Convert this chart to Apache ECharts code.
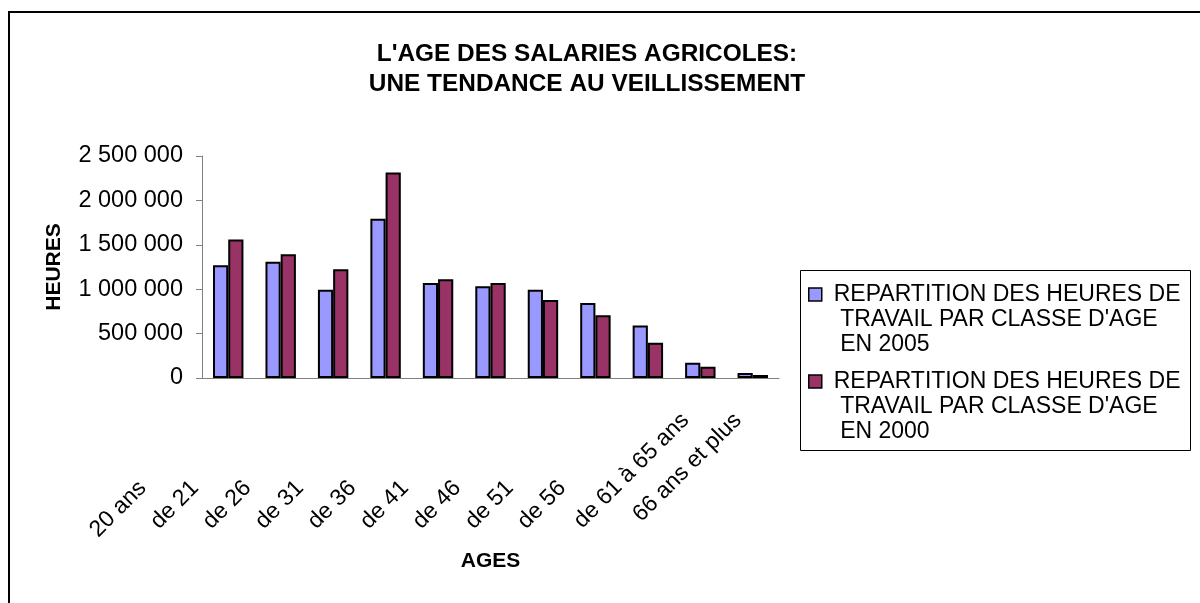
<!DOCTYPE html>
<html>
<head>
<meta charset="utf-8">
<script src="https://cdn.jsdelivr.net/npm/echarts@6/dist/echarts.min.js"></script>
<style>
  html, body { margin: 0; padding: 0; background: #fff; }
  #chart { width: 1200px; height: 603px; }
</style>
</head>
<body>
<div id="chart"></div>
<script>
// age classes: the first nine are shown cut short in the original, the last two in full
const shortLabels = ['20 ans', 'de 21', 'de 26', 'de 31', 'de 36', 'de 41', 'de 46', 'de 51', 'de 56'];
const longLabels = ['de 61 à 65 ans', '66 ans et plus'];
const ages = shortLabels.concat(longLabels);

const heures2005 = [1270000, 1310000, 995000, 1792000, 1070000, 1033000, 995000, 846000, 591000, 172000, 56000];
const heures2000 = [1560000, 1393000, 1224000, 2313000, 1112000, 1070000, 879000, 707000, 396000, 127000, 34000];

const yTicks = [0, 500000, 1000000, 1500000, 2000000, 2500000];

const serie2005 = 'REPARTITION DES HEURES DE\n TRAVAIL PAR CLASSE D\'AGE\n EN 2005';
const serie2000 = 'REPARTITION DES HEURES DE\n TRAVAIL PAR CLASSE D\'AGE\n EN 2000';

const font = '"Liberation Sans", Arial, sans-serif';
const fmt = v => String(v).replace(/\B(?=(\d{3})+(?!\d))/g, ' ');

const chart = echarts.init(document.getElementById('chart'));

const option = {
  backgroundColor: '#fff',
  animation: false,
  textStyle: { fontFamily: font },
  title: {
    text: 'L\'AGE DES SALARIES AGRICOLES:\nUNE TENDANCE AU VEILLISSEMENT',
    left: 587,
    top: 39,
    padding: 0,
    textAlign: 'center',
    textStyle: { fontFamily: font, fontSize: 24.4, fontWeight: 'bold', color: '#000', lineHeight: 30 }
  },
  legend: {
    orient: 'vertical',
    left: 808,
    top: 232,
    padding: 0,
    itemGap: -38,
    itemWidth: 13,
    itemHeight: 13,
    icon: 'rect',
    selectedMode: false,
    itemStyle: { borderColor: '#000', borderWidth: 1.5 },
    // two empty lines on top keep the first text line level with the icon
    formatter: name => '\n\n' + name,
    textStyle: { fontFamily: font, fontSize: 23, color: '#000', lineHeight: 25, padding: [0, 0, 0, 7] },
    data: [serie2005, serie2000]
  },
  grid: { left: 202, right: 421, top: 156, bottom: 225, outerBoundsMode: 'none' },
  xAxis: [
    {
      type: 'category',
      data: ages,
      name: 'AGES',
      nameLocation: 'middle',
      nameGap: 173,
      nameMoveOverlap: false,
      nameTextStyle: { fontFamily: font, fontSize: 21, fontWeight: 'bold', color: '#000' },
      axisLine: { lineStyle: { color: '#808080', width: 1 } },
      axisTick: { length: 7, lineStyle: { color: '#808080' } },
      axisLabel: {
        interval: 0,
        rotate: 45,
        margin: 21,
        padding: [0, 121, 0, 0],
        fontFamily: font,
        fontSize: 23,
        color: '#000',
        formatter: v => shortLabels.includes(v) ? v : ''
      }
    },
    {
      type: 'category',
      data: ages,
      position: 'bottom',
      axisLine: { show: false },
      axisTick: { show: false },
      axisLabel: {
        interval: 0,
        rotate: 45,
        margin: 24,
        padding: [0, 21, 0, 0],
        fontFamily: font,
        fontSize: 23,
        color: '#000',
        formatter: v => longLabels.includes(v) ? v : ''
      }
    }
  ],
  yAxis: {
    type: 'value',
    min: yTicks[0],
    max: yTicks[yTicks.length - 1],
    interval: yTicks[1] - yTicks[0],
    name: 'HEURES',
    nameLocation: 'middle',
    nameGap: 137,
    nameRotate: 90,
    nameMoveOverlap: false,
    nameTextStyle: { fontFamily: font, fontSize: 21, fontWeight: 'bold', color: '#000' },
    axisLine: { show: true, lineStyle: { color: '#808080', width: 1 } },
    axisTick: { show: true, length: 6, lineStyle: { color: '#808080' } },
    splitLine: { show: false },
    axisLabel: { margin: 19, fontFamily: font, fontSize: 23.5, color: '#000', formatter: fmt }
  },
  series: [
    {
      name: serie2005,
      type: 'bar',
      data: heures2005,
      barGap: '0%',
      barCategoryGap: '42%',
      itemStyle: { color: '#9999FF', borderColor: '#000', borderWidth: 2 }
    },
    {
      name: serie2000,
      type: 'bar',
      data: heures2000,
      barGap: '0%',
      barCategoryGap: '42%',
      itemStyle: { color: '#993366', borderColor: '#000', borderWidth: 2 }
    }
  ],
  graphic: [
    {
      type: 'rect',
      silent: true,
      shape: { x: 9, y: 12, width: 1300, height: 700 },
      style: { fill: 'none', stroke: '#000', lineWidth: 2 }
    },
    {
      type: 'rect',
      silent: true,
      shape: { x: 800.5, y: 270.5, width: 390, height: 180 },
      style: { fill: 'none', stroke: '#000', lineWidth: 1 }
    }
  ]
};

chart.setOption(option);
</script>
</body>
</html>
